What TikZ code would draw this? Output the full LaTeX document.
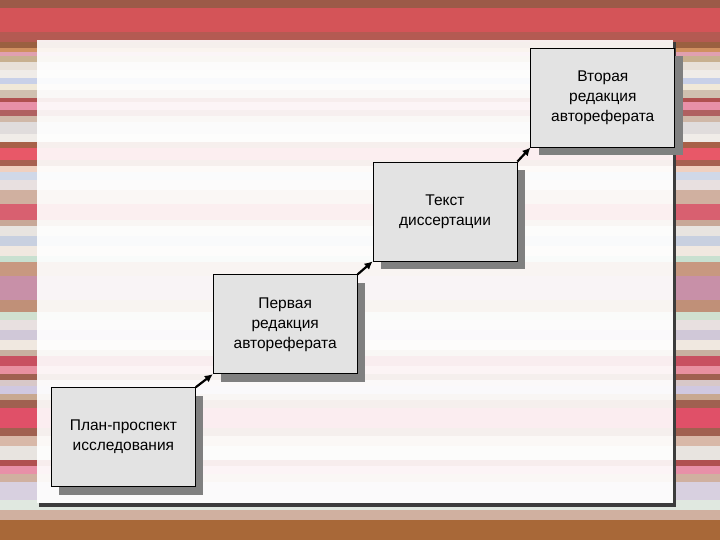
\documentclass[tikz,border=0pt]{standalone}
\usepackage{fontspec}
\setmainfont{Liberation Sans}
\usetikzlibrary{positioning, arrows.meta, shadows}

\definecolor{boxFill}{HTML}{E3E3E3}
\definecolor{shadowFill}{HTML}{808080}
\definecolor{panelEdge}{HTML}{3C3C3C}

\tikzset{
    StepBox/.style = {
        draw=black, line width=0.8pt, fill=boxFill,
        minimum width=144pt, minimum height=99pt,
        align=center, inner sep=0pt,
        font=\fontsize{15.5}{20}\selectfont,
        drop shadow={shadow xshift=8pt, shadow yshift=-8pt,
            fill=shadowFill, opacity=1}
    },
    Arrow/.style = {
        line width=2.2pt,
        -{Latex[length=8pt, width=8pt]}
    }
}

\begin{document}
\begin{tikzpicture}[x=1pt, y=-1pt]
    \useasboundingbox (0,0) rectangle (720,540);
    % striped background
    \foreach \ya/\yb/\col in {
        0/8/9C5A48, 8/32/D45458, 32/42/B45A52, 42/48/9A6040, 48/52/D09060,
        52/56/E0A0B0, 56/62/C8B090, 62/70/E8E0D8, 70/78/F0ECE8, 78/84/C8D0E8,
        84/90/F0E8D8, 90/98/D0C0B0, 98/102/B05050, 102/110/E890A8, 110/116/B06060,
        116/122/D0B8A8, 122/134/E0DCDC, 134/142/F0ECE8, 142/148/A86048, 148/160/E85868,
        160/166/A86050, 166/172/F0D0C0, 172/180/D0D8E8, 180/190/E8E0E0, 190/204/D0B0A0,
        204/220/D86070, 220/226/C8A898, 226/236/E8E4E0, 236/246/C8D0E0, 246/256/F0E8E0,
        256/262/C8E0D0, 262/276/C89880, 276/300/C890A8, 300/312/C09078, 312/320/D0E0D0,
        320/330/E8E0E0, 330/340/D0C8D8, 340/350/F0E8E0, 350/356/C8B0A0, 356/366/C85060,
        366/374/E890A0, 374/380/A06050, 380/386/D8C8C8, 386/394/D0C8E0, 394/400/C8A890,
        400/408/A06050, 408/428/E05068, 428/436/A06050, 436/446/D8B8A8, 446/460/E8E4E0,
        460/466/B05050, 466/474/E890A8, 474/482/D0B0A0, 482/500/D8D0E0, 500/510/E0E8E0,
        510/520/D0B0A0, 520/540/A86838} {
        \definecolor{stripeCol}{HTML}{\col}
        \fill [stripeCol] (0,\ya) rectangle (720,\yb);
    }
    % white panel with dark edge right and below
    \fill [white, fill opacity=0.9] (37,40) rectangle (673,503);
    \fill [panelEdge] (673,42) rectangle (676,507);
    \fill [panelEdge] (39,503) rectangle (676,507);

    \node [StepBox, anchor=south west] (plan) at (51,487) {План-проспект\\исследования};
    \node [StepBox, above right=13pt and 17pt of plan] (first) {Первая\\редакция\\автореферата};
    \node [StepBox, above right=13pt and 15pt of first] (thesis) {Текст\\диссертации};
    \node [StepBox, above right=14pt and 13pt of thesis] (second) {Вторая\\редакция\\автореферата};

    \draw [Arrow] (plan.north east) -- (first.south west);
    \draw [Arrow] (first.north east) -- (thesis.south west);
    \draw [Arrow] (thesis.north east) -- (second.south west);
\end{tikzpicture}
\end{document}
